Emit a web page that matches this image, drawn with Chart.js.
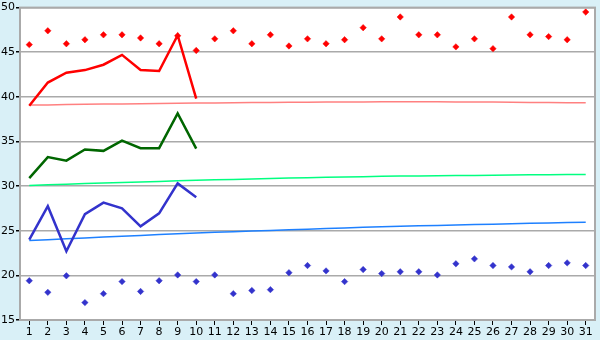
<!DOCTYPE html>
<html>
<head>
<meta charset="utf-8">
<script src="https://cdn.jsdelivr.net/npm/chart.js@4/dist/chart.umd.min.js"></script>
<style>
  html, body { margin: 0; padding: 0; background: #d9f0f7; }
  #wrap { width: 600px; height: 340px; }
</style>
</head>
<body>
<div id="wrap"><canvas id="chart" width="600" height="340"></canvas></div>
<script>
const days = Array.from({ length: 31 }, (_, i) => String(i + 1));
const yTicks = [15, 20, 25, 30, 35, 40, 45, 50];

const redLine = [39.0, 41.6, 42.7, 43.0, 43.6, 44.7, 43.0, 42.9, 46.9, 39.8];
const greenLine = [30.9, 33.25, 32.85, 34.1, 33.95, 35.1, 34.25, 34.25, 38.15, 34.2];
const blueLine = [24.0, 27.75, 22.7, 26.85, 28.15, 27.5, 25.5, 26.95, 30.3, 28.75];

const redPoints = [45.85, 47.4, 45.95, 46.4, 46.95, 46.95, 46.6, 45.95, 46.85, 45.2,
  46.5, 47.4, 45.95, 46.95, 45.7, 46.5, 45.95, 46.4, 47.75, 46.5,
  48.95, 46.95, 46.95, 45.6, 46.5, 45.4, 48.95, 46.95, 46.75, 46.4, 49.5];
const bluePoints = [19.4, 18.1, 19.95, 16.95, 17.95, 19.3, 18.2, 19.4, 20.05, 19.3,
  20.05, 17.95, 18.3, 18.4, 20.3, 21.1, 20.5, 19.3, 20.65, 20.2,
  20.4, 20.4, 20.05, 21.3, 21.85, 21.1, 20.95, 20.4, 21.1, 21.4, 21.1];

const redTrend = [39.08, 39.1, 39.13, 39.16, 39.19, 39.21, 39.24, 39.26, 39.28, 39.3,
  39.32, 39.34, 39.36, 39.37, 39.39, 39.4, 39.41, 39.42, 39.43, 39.44,
  39.44, 39.44, 39.44, 39.43, 39.42, 39.41, 39.4, 39.38, 39.36, 39.35, 39.33];
const greenTrend = [30.07, 30.15, 30.22, 30.29, 30.35, 30.41, 30.47, 30.53, 30.59, 30.65,
  30.7, 30.75, 30.8, 30.85, 30.9, 30.94, 30.98, 31.02, 31.06, 31.1,
  31.12, 31.14, 31.16, 31.18, 31.2, 31.22, 31.24, 31.26, 31.27, 31.29, 31.3];
const blueTrend = [23.9, 24.0, 24.1, 24.2, 24.3, 24.39, 24.48, 24.57, 24.66, 24.75,
  24.82, 24.89, 24.96, 25.03, 25.1, 25.17, 25.24, 25.31, 25.38, 25.45,
  25.5, 25.55, 25.6, 25.65, 25.7, 25.74, 25.79, 25.83, 25.88, 25.92, 25.96];

const frame = {
  id: 'frame',
  beforeDraw(chart) {
    const { ctx, chartArea: a } = chart;
    ctx.save();
    ctx.fillStyle = '#ffffff';
    ctx.fillRect(a.left, a.top, a.right - a.left, a.bottom - a.top);
    ctx.restore();
  },
  afterDatasetsDraw(chart) {
    const { ctx, chartArea: a } = chart;
    ctx.save();
    ctx.strokeStyle = '#aaaaaa';
    ctx.lineWidth = 2;
    ctx.strokeRect(a.left, a.top, a.right - a.left, a.bottom - a.top);
    ctx.restore();
  }
};

function trendSet(data, color) {
  return {
    type: 'line', data, borderColor: color, borderWidth: 1.5,
    pointRadius: 0, tension: 0, order: 5
  };
}
function lineSet(data, color) {
  return {
    type: 'line', data, borderColor: color, borderWidth: 2.5,
    pointRadius: 0, tension: 0, order: 1
  };
}
function pointSet(data, color) {
  return {
    type: 'line', data, showLine: false, pointStyle: 'rectRot',
    pointRadius: 3.2, backgroundColor: color, borderColor: color,
    borderWidth: 0.5, order: 3
  };
}

Chart.defaults.font.family = 'DejaVu Sans';
Chart.defaults.font.size = 11;
Chart.defaults.color = '#000000';

new Chart(document.getElementById('chart'), {
  data: {
    labels: days,
    datasets: [
      trendSet(redTrend, '#ff8080'),
      trendSet(greenTrend, '#00ff80'),
      trendSet(blueTrend, '#1e80ff'),
      pointSet(redPoints, '#ff0000'),
      pointSet(bluePoints, '#3333cc'),
      lineSet(redLine, '#ff0000'),
      lineSet(greenLine, '#006600'),
      lineSet(blueLine, '#3333cc')
    ]
  },
  options: {
    responsive: false,
    animation: false,
    layout: { padding: { top: 5, right: 5, left: 0, bottom: 0 } },
    plugins: { legend: { display: false }, tooltip: { enabled: false } },
    scales: {
      x: {
        type: 'category',
        offset: true,
        grid: { drawOnChartArea: false, color: '#000000', tickLength: 5, offset: false },
        border: { color: '#aaaaaa', width: 2 },
        ticks: { padding: 1, maxRotation: 0, autoSkip: false },
        afterFit(scale) { scale.height = 20; }
      },
      y: {
        min: 15,
        max: 50,
        afterBuildTicks(scale) { scale.ticks = yTicks.map(v => ({ value: v })); },
        grid: { color: '#aaaaaa', lineWidth: 1.5, tickLength: 4, tickColor: '#000000' },
        border: { color: '#aaaaaa', width: 2 },
        ticks: { padding: 1 },
        afterFit(scale) { scale.width = 20; }
      }
    }
  },
  plugins: [frame]
});
</script>
</body>
</html>
